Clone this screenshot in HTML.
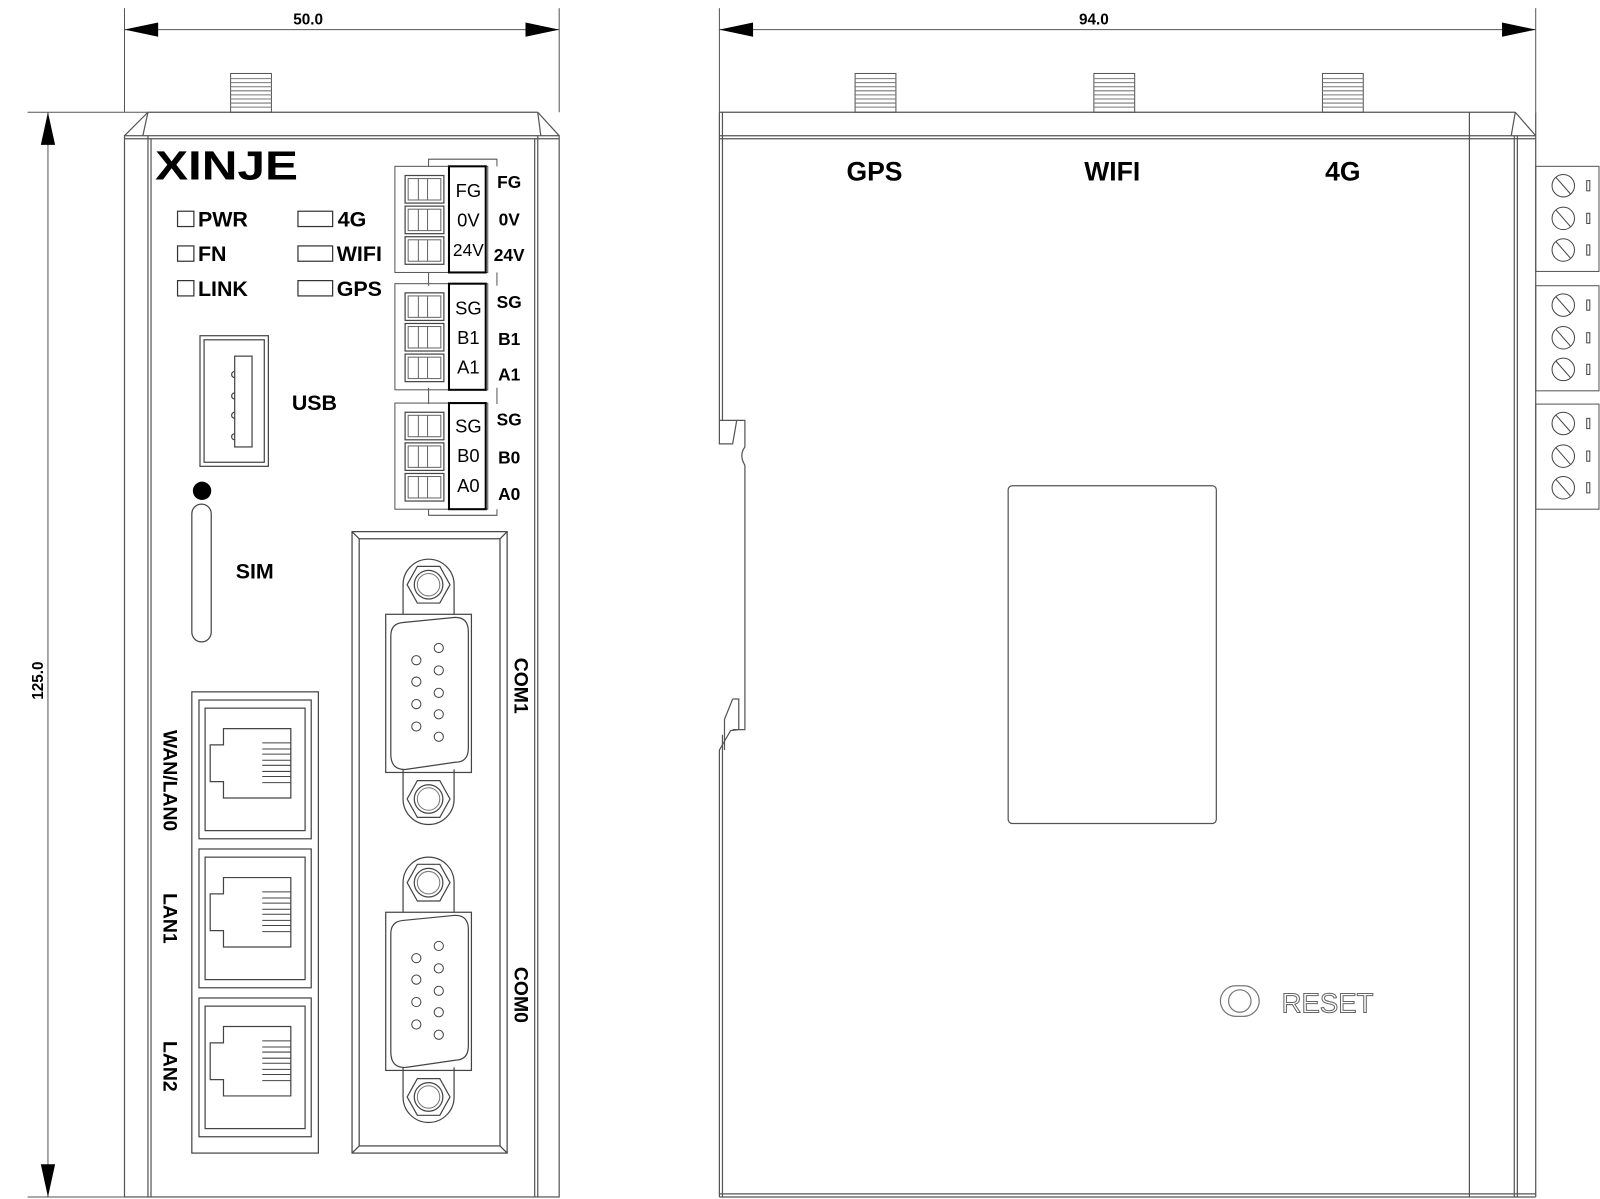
<!DOCTYPE html>
<html><head><meta charset="utf-8"><style>
html,body{margin:0;padding:0;background:#fff}
svg{display:block}
text{font-family:"Liberation Sans",Arial,sans-serif;fill:#000}
.b{font-weight:bold}
.n{font-weight:normal}
</style></head><body>
<svg width="1600" height="1199" viewBox="0 0 1568 1175" preserveAspectRatio="none" xmlns="http://www.w3.org/2000/svg">
<defs>
  <g id="nut">
    <path d="M-25,29 L-25,0 A25,25 0 0 1 25,0 L25,29" fill="none" stroke="#444" stroke-width="1.2"/>
    <polygon points="-21,0 -11,-18 11,-18 21,0 11,18 -11,18" fill="none" stroke="#444" stroke-width="1.2"/>
    <circle r="14" fill="none" stroke="#444" stroke-width="1.2"/>
    <circle r="11" fill="none" stroke="#777" stroke-width="1"/>
  </g>
  <g id="db9">
    <use href="#nut"/>
    <rect x="-42" y="29" width="84" height="155" fill="none" stroke="#444" stroke-width="1.2"/>
    <path d="M-37,50 Q-37,38 -25,37 L26,32 Q39,32 39,46 L39,160 Q39,174 26,174 L-22,181 Q-37,182 -37,166 Z" fill="none" stroke="#444" stroke-width="1.2"/>
    <g fill="none" stroke="#444" stroke-width="1">
      <circle cx="-12" cy="74" r="4.5"/><circle cx="-12" cy="95" r="4.5"/><circle cx="-12" cy="117" r="4.5"/><circle cx="-12" cy="139" r="4.5"/>
      <circle cx="10" cy="62" r="4.5"/><circle cx="10" cy="84" r="4.5"/><circle cx="10" cy="106" r="4.5"/><circle cx="10" cy="127" r="4.5"/><circle cx="10" cy="149" r="4.5"/>
    </g>
    <g transform="translate(0,210) scale(1,-1)"><use href="#nut"/></g>
  </g>
  <g id="rj">
    <rect x="0" y="0" width="110" height="136" fill="none" stroke="#444" stroke-width="1.2"/>
    <rect x="6" y="8" width="98" height="120" fill="none" stroke="#444" stroke-width="1.2"/>
    <path d="M24,28 L90,28 L90,96 L24,96 L24,80 L11,80 L11,44 L24,44 Z" fill="none" stroke="#444" stroke-width="1.2"/>
    <g stroke="#444" stroke-width="1">
      <line x1="62" y1="42" x2="90" y2="42"/><line x1="62" y1="48" x2="90" y2="48"/><line x1="62" y1="53" x2="90" y2="53"/><line x1="62" y1="59" x2="90" y2="59"/><line x1="62" y1="64" x2="90" y2="64"/><line x1="62" y1="70" x2="90" y2="70"/><line x1="62" y1="75" x2="90" y2="75"/><line x1="62" y1="81" x2="90" y2="81"/>
    </g>
  </g>
  <g id="ant">
    <rect x="0" y="0" width="40" height="38" fill="#fff" stroke="#555" stroke-width="1"/>
    <g stroke="#777" stroke-width="1"><line x1="0" y1="5" x2="40" y2="5"/><line x1="0" y1="9" x2="40" y2="9"/><line x1="0" y1="13" x2="40" y2="13"/><line x1="0" y1="17" x2="40" y2="17"/><line x1="0" y1="21" x2="40" y2="21"/><line x1="0" y1="25" x2="40" y2="25"/><line x1="0" y1="29" x2="40" y2="29"/><line x1="0" y1="33" x2="40" y2="33"/></g>
  </g>
  <g id="slot">
    <rect x="0" y="0" width="38" height="27" fill="none" stroke="#444" stroke-width="1.2"/>
    <rect x="3" y="3" width="32" height="21" fill="none" stroke="#666" stroke-width="1"/>
    <line x1="13" y1="3" x2="13" y2="24" stroke="#666"/><line x1="22" y1="3" x2="22" y2="24" stroke="#666"/>
  </g>
  <g id="tb">
    <rect x="0" y="0" width="91" height="104" fill="none" stroke="#555" stroke-width="1"/>
    <rect x="53" y="0" width="36" height="104" fill="none" stroke="#000" stroke-width="2"/>
    <use href="#slot" x="10" y="9"/><use href="#slot" x="10" y="39"/><use href="#slot" x="10" y="69"/>
  </g>
  <g id="scr">
    <rect x="0" y="0" width="62" height="103" fill="none" stroke="#555" stroke-width="1"/>
    <g fill="none" stroke="#444" stroke-width="1">
      <circle cx="27" cy="19" r="11"/><line x1="20" y1="11" x2="34" y2="27"/>
      <circle cx="27" cy="51" r="11"/><line x1="20" y1="43" x2="34" y2="59"/>
      <circle cx="27" cy="82" r="11"/><line x1="20" y1="74" x2="34" y2="90"/>
      <rect x="50" y="14" width="3" height="10"/><rect x="50" y="46" width="3" height="10"/><rect x="50" y="77" width="3" height="10"/>
    </g>
  </g>
</defs>

<g stroke="#555" stroke-width="1">
  <line x1="122" y1="8" x2="122" y2="110"/><line x1="548" y1="8" x2="548" y2="110"/>
  <line x1="122" y1="29" x2="548" y2="29"/>
  <line x1="27" y1="110" x2="145" y2="110"/>
  <line x1="27" y1="1173" x2="122" y2="1173"/>
  <line x1="47" y1="110" x2="47" y2="1173"/>
  <line x1="705" y1="8" x2="705" y2="110"/><line x1="1505" y1="8" x2="1505" y2="110"/>
  <line x1="705" y1="29" x2="1505" y2="29"/>
</g>
<polygon points="122,29 155,22 155,36" fill="#000"/>
<polygon points="548,29 515,22 515,36" fill="#000"/>
<polygon points="705,29 738,22 738,36" fill="#000"/>
<polygon points="1505,29 1472,22 1472,36" fill="#000"/>
<polygon points="47,110 40,142 54,142" fill="#000"/>
<polygon points="47,1173 40,1141 54,1141" fill="#000"/>
<text class="b" x="302" y="24" font-size="15" text-anchor="middle">50.0</text>
<text class="b" x="1072" y="24" font-size="15" text-anchor="middle">94.0</text>
<text class="b" transform="translate(42,667) rotate(-90)" font-size="15" text-anchor="middle">125.0</text>

<use href="#ant" x="226" y="72"/>
<g fill="none" stroke="#555" stroke-width="1.2">
  <rect x="122" y="133" width="426" height="1040"/>
  <line x1="145" y1="110" x2="527" y2="110"/>
  <line x1="145" y1="110" x2="122" y2="133"/><line x1="527" y1="110" x2="548" y2="133"/>
  <line x1="145" y1="110" x2="140" y2="133"/><line x1="527" y1="110" x2="530" y2="133"/>
  <line x1="122" y1="136" x2="548" y2="136"/>
  <line x1="145" y1="133" x2="145" y2="1173"/><line x1="527" y1="133" x2="527" y2="1173"/>
  <line x1="148" y1="136" x2="148" y2="1173"/><line x1="524" y1="136" x2="524" y2="1173"/>
</g>
<text class="b" x="152" y="176" font-size="40" textLength="140" lengthAdjust="spacingAndGlyphs" style="font-weight:900">XINJE</text>

<g fill="none" stroke="#333" stroke-width="1.2">
  <rect x="174" y="207" width="16" height="15"/><rect x="174" y="241" width="16" height="15"/><rect x="174" y="275" width="16" height="15"/>
  <rect x="292" y="207" width="34" height="15"/><rect x="292" y="241" width="34" height="15"/><rect x="292" y="275" width="34" height="15"/>
</g>
<g font-size="21" class="b">
  <text class="b" x="194" y="222">PWR</text><text class="b" x="194" y="256">FN</text><text class="b" x="194" y="290">LINK</text>
  <text class="b" x="331" y="222">4G</text><text class="b" x="330" y="256">WIFI</text><text class="b" x="330" y="290">GPS</text>
</g>

<g stroke="#555" fill="none"><path d="M420,163 L420,156 L487,156 L487,163"/><line x1="420" y1="267" x2="420" y2="280"/><line x1="487" y1="267" x2="487" y2="280"/><line x1="420" y1="380" x2="420" y2="396"/><line x1="487" y1="380" x2="487" y2="396"/><path d="M420,499 L420,505 L487,505 L487,499"/></g>
<use href="#tb" x="387" y="163"/>
<use href="#tb" x="387" y="278"/>
<use href="#tb" x="387" y="395"/>
<g font-size="18" text-anchor="middle">
  <text class="n" x="459" y="193">FG</text><text class="n" x="459" y="222">0V</text><text class="n" x="459" y="251" font-size="17">24V</text>
  <text class="n" x="459" y="308">SG</text><text class="n" x="459" y="337">B1</text><text class="n" x="459" y="366">A1</text>
  <text class="n" x="459" y="424">SG</text><text class="n" x="459" y="453">B0</text><text class="n" x="459" y="482">A0</text>
</g>
<g font-size="17" text-anchor="middle">
  <text class="b" x="499" y="184">FG</text><text class="b" x="499" y="221">0V</text><text class="b" x="499" y="256">24V</text>
  <text class="b" x="499" y="302">SG</text><text class="b" x="499" y="338">B1</text><text class="b" x="499" y="373">A1</text>
  <text class="b" x="499" y="417">SG</text><text class="b" x="499" y="454">B0</text><text class="b" x="499" y="490">A0</text>
</g>

<g fill="none" stroke="#444" stroke-width="1.2">
  <rect x="196" y="329" width="67" height="128"/><rect x="200" y="333" width="59" height="120"/>
  <rect x="230" y="349" width="17" height="89"/>
  <path d="M230,364 a3,3 0 0 0 0,6 M230,385 a3,3 0 0 0 0,6 M230,404 a3,3 0 0 0 0,6 M230,425 a3,3 0 0 0 0,6"/>
</g>
<text class="b" x="286" y="402" font-size="21">USB</text>
<circle cx="198" cy="481" r="9" fill="#000"/>
<rect x="188" y="494" width="19" height="135" rx="9.5" fill="none" stroke="#444" stroke-width="1.2"/>
<text class="b" x="231" y="567" font-size="21">SIM</text>

<rect x="188" y="678" width="124" height="452" fill="none" stroke="#444" stroke-width="1.2"/>
<use href="#rj" x="195" y="686"/>
<use href="#rj" x="195" y="832"/>
<use href="#rj" x="195" y="978"/>
<g font-size="19">
  <text class="b" transform="translate(160,765) rotate(90)" text-anchor="middle">WAN/LAN0</text>
  <text class="b" transform="translate(160,900) rotate(90)" text-anchor="middle">LAN1</text>
  <text class="b" transform="translate(160,1045) rotate(90)" text-anchor="middle">LAN2</text>
</g>

<g fill="none" stroke="#444" stroke-width="1.2">
  <rect x="345" y="521" width="152" height="609"/>
  <rect x="352" y="528" width="138" height="595"/>
  <line x1="345" y1="521" x2="352" y2="528"/><line x1="497" y1="521" x2="490" y2="528"/>
  <line x1="345" y1="1130" x2="352" y2="1123"/><line x1="497" y1="1130" x2="490" y2="1123"/>
</g>
<use href="#db9" x="420" y="573"/>
<use href="#db9" x="420" y="865"/>
<g font-size="19">
  <text class="b" transform="translate(504,672) rotate(90)" text-anchor="middle">COM1</text>
  <text class="b" transform="translate(504,975) rotate(90)" text-anchor="middle">COM0</text>
</g>

<use href="#ant" x="838" y="72"/>
<use href="#ant" x="1072" y="72"/>
<use href="#ant" x="1296" y="72"/>
<g fill="none" stroke="#555" stroke-width="1.2">
  <line x1="705" y1="110" x2="1485" y2="110"/>
  <line x1="705" y1="133" x2="1505" y2="133"/>
  <line x1="705" y1="136" x2="1505" y2="136"/>
  <line x1="1485" y1="110" x2="1505" y2="133"/>
  <line x1="1485" y1="110" x2="1481" y2="133"/>
  <line x1="705" y1="110" x2="705" y2="412"/>
  <line x1="708" y1="110" x2="708" y2="412"/>
  <line x1="1440" y1="110" x2="1440" y2="1173"/>
  <line x1="1484" y1="133" x2="1484" y2="1173"/>
  <line x1="1487" y1="133" x2="1487" y2="1173"/>
  <line x1="1505" y1="110" x2="1505" y2="1173"/>
  <line x1="705" y1="1173" x2="1505" y2="1173"/>
  <line x1="705" y1="1170" x2="1505" y2="1170"/>
  <path d="M705,412 L730,412 L730,438 Q724,446 730,456 L730,715 L718,715"/>
  <path d="M705,412 L705,435 L718,435 L722,412"/>
  <path d="M718,685 L724,685 L724,715 L716,716 L705,735 L705,1173"/>
  <path d="M718,685 L710,705 L710,735"/>
  <line x1="708" y1="720" x2="708" y2="1173"/>
</g>
<rect x="988" y="476" width="204" height="331" rx="4" fill="none" stroke="#555" stroke-width="1.2"/>
<g font-size="26" text-anchor="middle">
  <text class="b" x="857" y="177">GPS</text><text class="b" x="1090" y="177">WIFI</text><text class="b" x="1316" y="177">4G</text>
</g>
<use href="#scr" x="1505" y="163"/>
<use href="#scr" x="1505" y="280"/>
<use href="#scr" x="1505" y="396"/>
<rect x="1196" y="966" width="38" height="30" rx="15" fill="none" stroke="#777" stroke-width="1.2"/>
<ellipse cx="1215" cy="981" rx="11" ry="11" fill="none" stroke="#777" stroke-width="1.2"/>
<text x="1256" y="992" font-size="27" style="font-weight:normal;fill:#fff;stroke:#666;stroke-width:1">RESET</text>
</svg>
</body></html>
